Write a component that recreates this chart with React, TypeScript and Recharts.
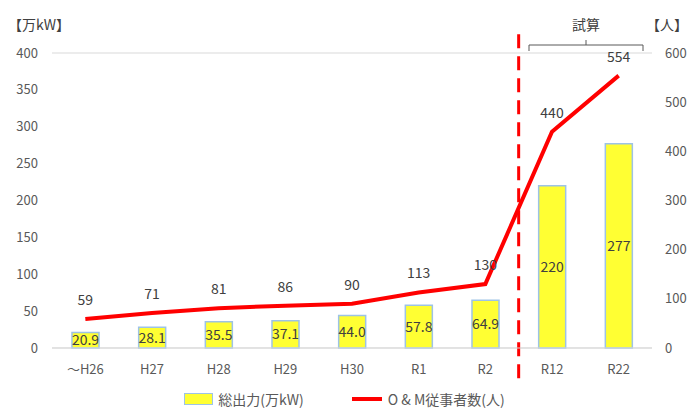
import {
  ComposedChart, Bar, Line, XAxis, YAxis, CartesianGrid,
  LabelList, ReferenceLine,
} from "recharts";

const categories = ["～H26", "H27", "H28", "H29", "H30", "R1", "R2", "R12", "R22"];
const capacity = [20.9, 28.1, 35.5, 37.1, 44.0, 57.8, 64.9, 220, 277];
const workers = [59, 71, 81, 86, 90, 113, 130, 440, 554];
const leftTicks = [0, 50, 100, 150, 200, 250, 300, 350, 400];
const rightTicks = [0, 100, 200, 300, 400, 500, 600];

const data = categories.map((name, i) => ({ name, capacity: capacity[i], workers: workers[i] }));

const FONT = "'Noto Sans CJK JP', 'Noto Sans', sans-serif";
const TICK = { fill: "#595959", fontSize: 13, fontFamily: FONT };
const LABEL_COLOR = "#404040";

const fmtCap = (v: any) => (Number(v) >= 100 ? String(v) : Number(v).toFixed(1));

function LegendBox() {
  return (
    <div style={{ position: "absolute", left: 0, top: 389, width: 689, display: "flex", justifyContent: "center", alignItems: "center", fontFamily: FONT, fontSize: 14, color: "#595959", whiteSpace: "nowrap" }}>
      <span style={{ display: "inline-block", width: 27, height: 10, background: "#FFFF33", border: "1px solid #9DC3E6", marginRight: 5 }} />
      <span style={{ marginRight: 48 }}>総出力(万kW)</span>
      <span style={{ display: "inline-block", width: 30, height: 4, background: "#FF0000", marginRight: 6 }} />
      <span>O &amp; M従事者数(人)</span>
    </div>
  );
}

export default function App() {
  return (
    <div style={{ position: "absolute", left: 0, top: 0, width: 689, height: 408, background: "#fff", fontFamily: FONT, overflow: "hidden" }}>
      <ComposedChart
        width={689}
        height={408}
        data={data}
        margin={{ top: 53, right: 0, bottom: 30, left: 0 }}
        style={{ position: "absolute", left: 0, top: 0 }}
      >
        <CartesianGrid stroke="#D9D9D9" vertical={false} />
        <XAxis
          dataKey="name"
          tick={TICK}
          tickLine={false}
          axisLine={{ stroke: "#D9D9D9" }}
          tickMargin={11}
          height={30}
        />
        <YAxis
          yAxisId="left"
          domain={[0, 400]}
          ticks={leftTicks}
          tick={TICK}
          tickLine={false}
          axisLine={false}
          width={52}
          tickMargin={8}
        />
        <YAxis
          yAxisId="right"
          orientation="right"
          domain={[0, 600]}
          ticks={rightTicks}
          tick={{ ...TICK, textAnchor: "start" }}
          tickLine={false}
          axisLine={false}
          width={37}
          tickMargin={7}
        />
        <Bar
          yAxisId="left"
          dataKey="capacity"
          fill="#FFFF33"
          stroke="#9DC3E6"
          strokeWidth={1.5}
          barSize={27}
          isAnimationActive={false}
        >
          <LabelList dataKey="capacity" position="center" formatter={fmtCap} fill={LABEL_COLOR} fontSize={14} fontFamily={FONT} />
        </Bar>
        <Line
          yAxisId="right"
          dataKey="workers"
          type="linear"
          stroke="#FF0000"
          strokeWidth={4}
          dot={false}
          isAnimationActive={false}
        >
          <LabelList dataKey="workers" position="top" offset={14} fill={LABEL_COLOR} fontSize={14} fontFamily={FONT} />
        </Line>
        <ReferenceLine
          yAxisId="left"
          segment={[{ x: "R12", y: -41 }, { x: "R12", y: 434 }]}
          position="start"
          ifOverflow="visible"
          stroke="#FF0000"
          strokeWidth={3}
          strokeDasharray="14 8"
        />
      </ComposedChart>
      <svg style={{ position: "absolute", left: 0, top: 0 }} width={689} height={408}>
        <path d="M529,51 V45 H643 V51 M586,45 V40" fill="none" stroke="#595959" strokeWidth={1} />
      </svg>
      <div style={{ position: "absolute", left: 8, top: 14, fontSize: 14, color: "#404040", whiteSpace: "nowrap" }}>【万kW】</div>
      <div style={{ position: "absolute", left: 646, top: 14, fontSize: 14, color: "#404040", whiteSpace: "nowrap" }}>【人】</div>
      <div style={{ position: "absolute", left: 572, top: 14, fontSize: 14, color: "#404040", whiteSpace: "nowrap" }}>試算</div>
      <LegendBox />
    </div>
  );
}
